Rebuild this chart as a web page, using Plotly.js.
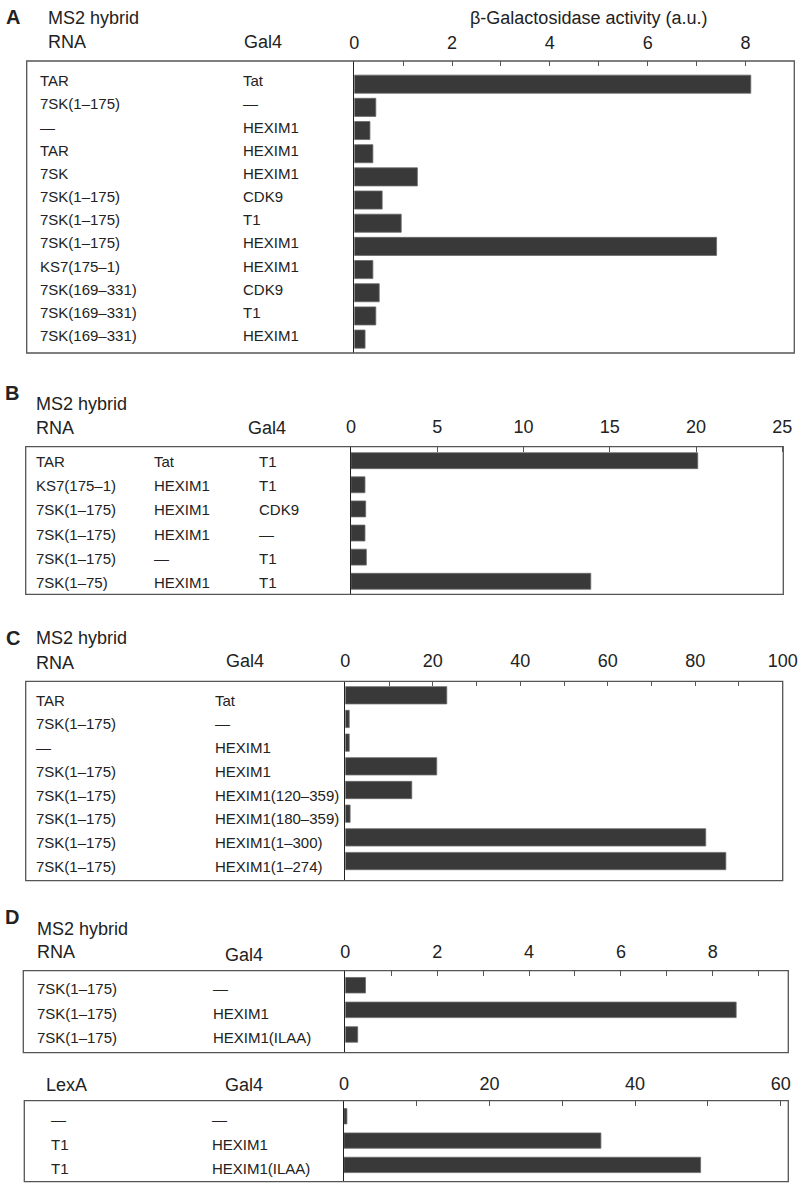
<!DOCTYPE html>
<html>
<head>
<meta charset="utf-8">
<script src="https://cdn.plot.ly/plotly-3.0.1.min.js"></script>
<style>html,body{margin:0;padding:0;background:#fff;}#chart{width:800px;height:1183px;}</style>
</head>
<body>
<div id="chart"></div>
<script>
// ---------- DATA ----------
// Panel A
const rnaA  = ['TAR','7SK(1–175)','—','TAR','7SK','7SK(1–175)','7SK(1–175)','7SK(1–175)','KS7(175–1)','7SK(169–331)','7SK(169–331)','7SK(169–331)'];
const gal4A = ['Tat','—','HEXIM1','HEXIM1','HEXIM1','CDK9','T1','HEXIM1','HEXIM1','CDK9','T1','HEXIM1'];
const valA  = [8.11,0.44,0.32,0.38,1.29,0.57,0.96,7.41,0.38,0.51,0.44,0.22];
const ticksA = [0,2,4,6,8];
// Panel B
const rnaB  = ['TAR','KS7(175–1)','7SK(1–175)','7SK(1–175)','7SK(1–175)','7SK(1–75)'];
const protB = ['Tat','HEXIM1','HEXIM1','HEXIM1','—','HEXIM1'];
const gal4B = ['T1','T1','CDK9','—','T1','T1'];
const valB  = [20.1,0.81,0.85,0.81,0.89,13.9];
const ticksB = [0,5,10,15,20,25];
// Panel C
const rnaC  = ['TAR','7SK(1–175)','—','7SK(1–175)','7SK(1–175)','7SK(1–175)','7SK(1–175)','7SK(1–175)'];
const gal4C = ['Tat','—','HEXIM1','HEXIM1','HEXIM1(120–359)','HEXIM1(180–359)','HEXIM1(1–300)','HEXIM1(1–274)'];
const valC  = [23.2,0.9,0.9,20.9,15.2,1.1,82.4,87.0];
const ticksC = [0,20,40,60,80,100];
// Panel D (MS2 hybrid)
const rnaD1  = ['7SK(1–175)','7SK(1–175)','7SK(1–175)'];
const gal4D1 = ['—','HEXIM1','HEXIM1(ILAA)'];
const valD1  = [0.44,8.51,0.27];
const ticksD1 = [0,2,4,6,8];
// Panel D (LexA)
const lexaD2 = ['—','T1','T1'];
const gal4D2 = ['—','HEXIM1','HEXIM1(ILAA)'];
const valD2  = [0.4,35.3,49.0];
const ticksD2 = [0,20,40,60];

// ---------- LAYOUT HELPERS ----------
const W = 800, H = 1183;
const FONT = 'Liberation Sans, Arial, Helvetica, sans-serif';
const TXT = '#222';
const px = x => x / W;
const py = y => 1 - y / H;

const panels = [
  {vals: valA, cols: [rnaA, gal4A], colX: [38.3, 240.7], ticks: ticksA, minor: 1, xmax: 9.0,
   box: [26.7, 61, 794.3, 353], axisX: 354.3, yr: [11.6, -1.0], bw: 0.78, yshift: 3.5, standoff: 7},
  {vals: valB, cols: [rnaB, protB, gal4B], colX: [34.3, 151.7, 256.7], ticks: ticksB, minor: null, xmax: 25.06,
   box: [25.7, 446.7, 783.3, 594.3], axisX: 351, yr: [5.54, -0.58], bw: 0.66, yshift: -1, standoff: 9},
  {vals: valC, cols: [rnaC, gal4C], colX: [34.3, 213.3], ticks: ticksC, minor: 10, xmax: 100,
   box: [25.7, 681.3, 782.7, 880.7], axisX: 345.3, yr: [7.83, -0.59], bw: 0.73, yshift: -5, standoff: 10},
  {vals: valD1, cols: [rnaD1, gal4D1], colX: [35, 211], ticks: ticksD1, minor: 1, xmax: 9.645,
   box: [23.3, 970.7, 788.3, 1052.7], axisX: 345.3, yr: [2.74, -0.59], bw: 0.63, yshift: -3.5, standoff: 8},
  {vals: valD2, cols: [lexaD2, gal4D2], colX: [49.3, 210], ticks: ticksD2, minor: 10, xmax: 61.05,
   box: [24.3, 1100.7, 788.3, 1181.7], axisX: 344, yr: [2.69, -0.64], bw: 0.63, yshift: -3.5, standoff: 6}
];

const data = [];
const layout = {
  width: W, height: H,
  margin: {l: 0, r: 0, t: 0, b: 0},
  paper_bgcolor: '#fff', plot_bgcolor: 'rgba(0,0,0,0)',
  showlegend: false,
  font: {family: FONT, color: TXT},
  shapes: [], annotations: []
};

panels.forEach((p, k) => {
  const n = k === 0 ? '' : String(k + 1);
  const xa = 'x' + n, ya = 'y' + n;
  const idx = p.vals.map((_, i) => i);
  data.push({
    type: 'bar', orientation: 'h', x: p.vals, y: idx, xaxis: xa, yaxis: ya,
    width: p.bw, hoverinfo: 'skip',
    marker: {color: '#393939', line: {color: '#6a6a6a', width: 0.8}}
  });
  const [bl, bt, br, bb] = p.box;
  const xaxis = {
    domain: [px(p.axisX), px(br)], range: [0, p.xmax], anchor: ya, side: 'top',
    showgrid: false, zeroline: false, showline: false, fixedrange: true,
    tickmode: 'array', tickvals: p.ticks, ticktext: p.ticks.map(String),
    ticks: 'inside', ticklen: 5, tickwidth: 1, tickcolor: '#555',
    tickfont: {family: FONT, size: 18, color: TXT}, ticklabelstandoff: p.standoff
  };
  if (p.minor) xaxis.minor = {dtick: p.minor, tick0: 0, ticks: 'inside', ticklen: 5, tickwidth: 1, tickcolor: '#555', showgrid: false};
  const yaxis = {
    domain: [py(bb), py(bt)], range: p.yr, anchor: xa,
    showgrid: false, zeroline: false, showticklabels: false, ticks: '',
    showline: true, linecolor: '#222', linewidth: 1.3, fixedrange: true
  };
  layout['xaxis' + n] = xaxis;
  layout['yaxis' + n] = yaxis;
  layout.shapes.push({type: 'rect', xref: 'paper', yref: 'paper',
    x0: px(bl), x1: px(br), y0: py(bb), y1: py(bt), line: {color: '#555', width: 1.3}, layer: 'above'});
  p.cols.forEach((col, c) => {
    col.forEach((t, i) => {
      layout.annotations.push({text: t, xref: 'paper', yref: ya, x: px(p.colX[c]), y: i,
        xanchor: 'left', yanchor: 'middle', yshift: p.yshift, showarrow: false,
        font: {family: FONT, size: 15, color: TXT}});
    });
  });
});

// headers
const headers = [
  ['A', 4, 17, true], ['MS2 hybrid', 45.7, 18.3], ['RNA', 45.7, 42.3], ['Gal4', 242, 42],
  ['B', 3, 393, true], ['MS2 hybrid', 34.3, 404], ['RNA', 34.3, 428.3], ['Gal4', 245.7, 428],
  ['C', 4, 638.3, true], ['MS2 hybrid', 34.3, 638.3], ['RNA', 34.3, 662.7], ['Gal4', 224, 660.7],
  ['D', 3, 916.7, true], ['MS2 hybrid', 35.3, 929], ['RNA', 35.3, 952.3], ['Gal4', 222.7, 955],
  ['LexA', 44.3, 1085], ['Gal4', 222.7, 1085]
];
headers.forEach(h => {
  layout.annotations.push({text: h[3] ? '<b>' + h[0] + '</b>' : h[0], xref: 'paper', yref: 'paper',
    x: px(h[1]), y: py(h[2]), xanchor: 'left', yanchor: 'middle', showarrow: false,
    font: {family: FONT, size: h[3] ? 20 : 18, color: TXT}});
});
layout.annotations.push({text: 'β-Galactosidase activity (a.u.)', xref: 'paper', yref: 'paper',
  x: px(588), y: py(18), xanchor: 'center', yanchor: 'middle', showarrow: false,
  font: {family: FONT, size: 18, color: TXT}});

Plotly.newPlot('chart', data, layout, {displayModeBar: false, staticPlot: true});
</script>
</body>
</html>
